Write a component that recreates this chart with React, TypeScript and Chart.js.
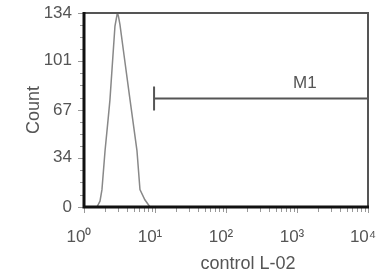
import React, { useEffect, useRef } from "react";
import { Chart, registerables } from "chart.js";

Chart.register(...registerables);

// Histogram (fluorescence intensity vs count)
const intensity = [1.0, 1.4, 1.52, 1.68, 1.79, 1.98, 2.18, 2.32, 2.56, 2.73, 2.95, 3.05, 3.21, 3.66, 4.45, 5.57, 6.14, 7.2, 8.5, 10, 100, 1000, 10000];
const counts = [0, 0, 0, 4, 12, 39, 60, 74, 105, 125, 134, 132, 126, 105, 74, 39, 12, 5, 0, 0, 0, 0, 0];

const yTicks = [0, 34, 67, 101, 134];
const xTicks = [1, 10, 100, 1000, 10000];
const xTickLabels = ["10⁰", "10¹", "10²", "10³", "10⁴"];
const xTitle = "control L-02";
const yTitle = "Count";

// Marker M1
const markerLabel = "M1";
const markerStart = 9.7;
const markerEnd = 10000;
const markerLevel = 75;

const FONT = "Arial, 'Liberation Sans', sans-serif";
const TEXT = "#555";

const framePlugin = {
  id: "frame",
  afterDatasetsDraw(chart: any) {
    const { ctx, chartArea: a, scales } = chart;
    const x = scales.x;
    const y = scales.y;
    ctx.save();
    // top & right frame
    ctx.strokeStyle = "#555";
    ctx.lineWidth = 2;
    ctx.beginPath();
    ctx.moveTo(a.left, a.top);
    ctx.lineTo(a.right, a.top);
    ctx.lineTo(a.right, a.bottom);
    ctx.stroke();
    // minor x ticks
    ctx.strokeStyle = "#999";
    ctx.lineWidth = 1;
    for (let d = 1; d < 10000; d *= 10) {
      for (let k = 1; k <= 10; k++) {
        const px = Math.round(x.getPixelForValue(d * k)) + 0.5;
        ctx.beginPath();
        ctx.moveTo(px, a.bottom);
        ctx.lineTo(px, a.bottom + (k === 1 || k === 10 ? 6 : 5));
        ctx.stroke();
      }
    }
    // minor y ticks
    for (let i = 0; i < yTicks.length; i++) {
      const v = yTicks[i];
      const py = Math.round(y.getPixelForValue(v)) + 0.5;
      ctx.beginPath();
      ctx.moveTo(a.left - 6, py);
      ctx.lineTo(a.left, py);
      ctx.stroke();
      if (i < yTicks.length - 1) {
        const step = (yTicks[i + 1] - v) / 4;
        for (let j = 1; j < 4; j++) {
          const pm = Math.round(y.getPixelForValue(v + step * j)) + 0.5;
          ctx.beginPath();
          ctx.moveTo(a.left - 4, pm);
          ctx.lineTo(a.left, pm);
          ctx.stroke();
        }
      }
    }
    // thick left & bottom axes
    ctx.strokeStyle = "#111";
    ctx.lineWidth = 3;
    ctx.beginPath();
    ctx.moveTo(a.left, a.top - 1);
    ctx.lineTo(a.left, a.bottom);
    ctx.lineTo(a.right + 1, a.bottom);
    ctx.stroke();
    // Marker M1
    const x0 = x.getPixelForValue(markerStart);
    const x1 = x.getPixelForValue(markerEnd);
    const ym = Math.round(y.getPixelForValue(markerLevel)) + 0.5;
    ctx.strokeStyle = "#555";
    ctx.lineWidth = 2;
    ctx.beginPath();
    ctx.moveTo(x0, ym);
    ctx.lineTo(x1, ym);
    ctx.moveTo(x0, ym - 12);
    ctx.lineTo(x0, ym + 12);
    ctx.stroke();
    ctx.fillStyle = TEXT;
    ctx.font = `17px ${FONT}`;
    ctx.textAlign = "center";
    ctx.textBaseline = "alphabetic";
    ctx.fillText(markerLabel, x.getPixelForValue(1290), ym - 11);
    // x-axis title
    ctx.font = `18px ${FONT}`;
    ctx.fillText(xTitle, (a.left + a.right) / 2 + 22, a.bottom + 62);
    ctx.restore();
  },
};

export default function App() {
  const ref = useRef<HTMLCanvasElement>(null);
  useEffect(() => {
    document.body.style.margin = "0";
    const chart = new Chart(ref.current!, {
      type: "scatter",
      data: {
        datasets: [
          {
            data: intensity.map((v, i) => ({ x: v, y: counts[i] })),
            showLine: true,
            borderColor: "#888",
            borderWidth: 1.5,
            pointRadius: 0,
            tension: 0,
          },
        ],
      },
      options: {
        responsive: false,
        animation: false,
        layout: { padding: { top: 13, right: 13, left: 23, bottom: 0 } },
        plugins: { legend: { display: false }, tooltip: { enabled: false } },
        scales: {
          x: {
            type: "logarithmic",
            min: 1,
            max: 10000,
            afterBuildTicks: (s: any) => {
              s.ticks = xTicks.map((v) => ({ value: v }));
            },
            afterFit: (s: any) => {
              s.height = 66;
              s.paddingLeft = 0;
              s.paddingRight = 0;
            },
            grid: { display: false, drawTicks: false },
            border: { display: false },
            ticks: {
              callback: (v: any) => xTickLabels[xTicks.indexOf(Number(v))] ?? "",
              color: TEXT,
              font: { family: FONT, size: 17 },
              padding: 20,
              labelOffset: -5,
              maxRotation: 0,
              autoSkip: false,
            },
            title: { display: false },
          },
          y: {
            min: 0,
            max: 134,
            afterBuildTicks: (s: any) => {
              s.ticks = yTicks.map((v) => ({ value: v }));
            },
            afterFit: (s: any) => {
              s.width = 61;
              s.paddingTop = 0;
              s.paddingBottom = 0;
            },
            grid: { display: false, drawTicks: false },
            border: { display: false },
            ticks: {
              color: TEXT,
              font: { family: FONT, size: 17 },
              padding: 12,
              autoSkip: false,
            },
            title: {
              display: true,
              text: yTitle,
              color: TEXT,
              font: { family: FONT, size: 18 },
              padding: { top: 0, bottom: 0 },
            },
          },
        },
      },
      plugins: [framePlugin],
    });
    return () => chart.destroy();
  }, []);
  return (
    <div style={{ position: "absolute", left: 0, top: 0, width: 381, height: 273 }}>
      <canvas ref={ref} width={381} height={273} style={{ width: 381, height: 273 }} />
    </div>
  );
}
